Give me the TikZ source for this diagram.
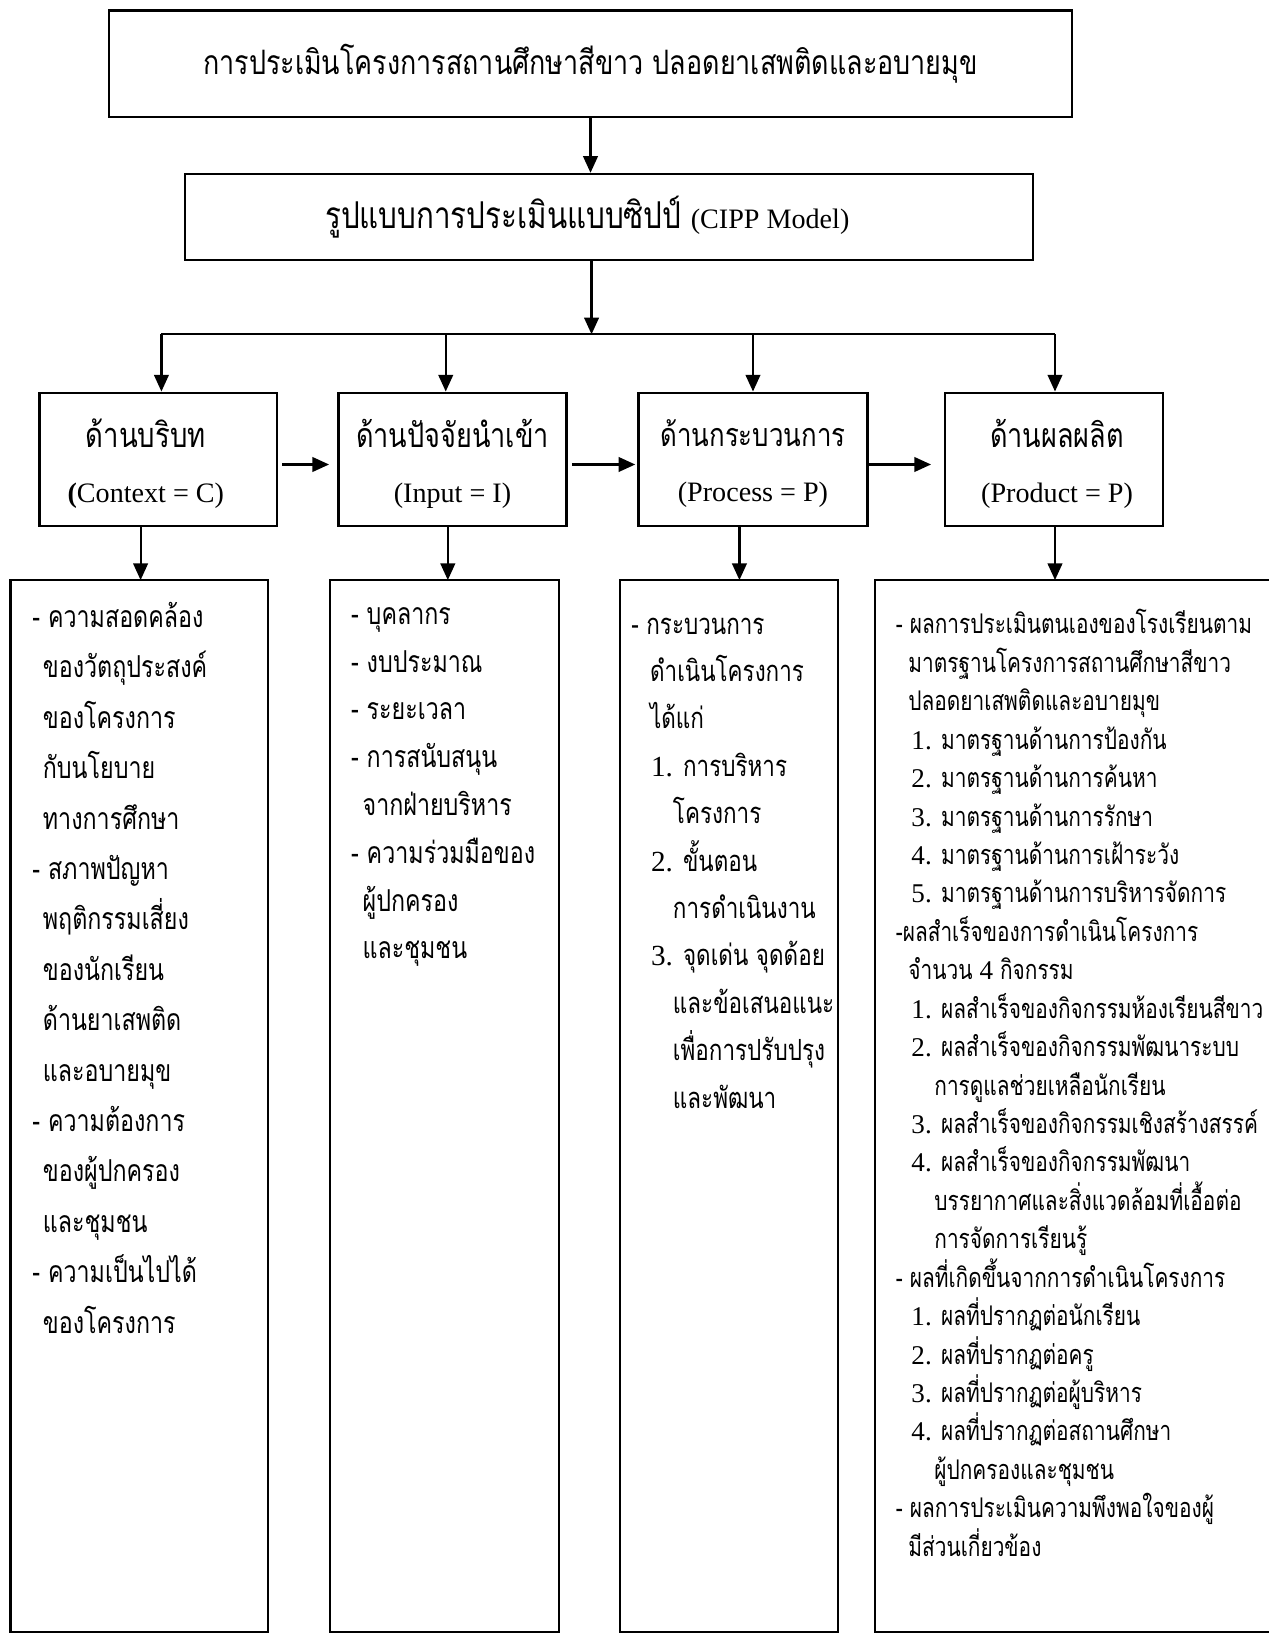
\documentclass[tikz,border=0pt]{standalone}
\usepackage{fontspec}
\setmainfont{Liberation Serif}
\newfontfamily\thai[Script=Thai,FakeStretch=0.77]{Loma}
\newfontfamily\thaihd[Script=Thai,FakeStretch=0.8]{Loma}
\usetikzlibrary{arrows.meta}
\newcommand\lat[1]{{\rmfamily #1}}
\begin{document}
\begin{tikzpicture}[x=1pt,y=-1pt,
  box/.style={draw, line width=2.1pt, rectangle, inner sep=0pt},
  arr/.style={line width=2.1pt, -{Triangle[length=16pt,width=14pt]}},
  conn/.style={line width=2.1pt},
  hd/.style={align=center, inner sep=0pt},
  lst/.style={align=left, inner sep=0pt, anchor=north west}]
\useasboundingbox (0,0) rectangle (1218,1568);
% top boxes
\node[box, minimum width=924pt, minimum height=102pt] (top) at (567,61)
  {\fontsize{32.3}{36}\thaihd การประเมินโครงการสถานศึกษาสีขาว ปลอดยาเสพติดและอบายมุข};
\node[box, minimum width=814pt, minimum height=83pt] (cipp) at (585,208.5) {};
\node[inner sep=0pt, anchor=west] (cippt) at (312,208.5)
  {{\fontsize{35.5}{36}\thaihd รูปแบบการประเมินแบบซิปป์}\hspace{9pt}{\fontsize{27}{32}\selectfont(CIPP Model)}};
% middle boxes
\node[box, minimum width=228pt, minimum height=128pt] (ctx) at (152,441) {};
\node[box, minimum width=219pt, minimum height=128pt] (inp) at (434.5,441) {};
\node[box, minimum width=220pt, minimum height=128pt] (proc) at (723,441) {};
\node[box, minimum width=210pt, minimum height=128pt] (prod) at (1012,441) {};
\node[hd] (ctxt) at ([xshift=-12pt,yshift=-4.5pt]ctx.center) {{\fontsize{33}{36}\thaihd ด้านบริบท}\\[33pt]{\fontsize{27}{32}\selectfont\textbf{(}Context = C)}};
\node[hd] (inpt) at ([yshift=-4.5pt]inp.center) {{\fontsize{32.5}{36}\thaihd ด้านปัจจัยนำเข้า}\\[33pt]{\fontsize{27}{32}\selectfont(Input = I)}};
\node[hd] (proct) at ([yshift=-4.5pt]proc.center) {{\fontsize{31}{36}\thaihd ด้านกระบวนการ}\\[33pt]{\fontsize{27}{32}\selectfont(Process = P)}};
\node[hd] (prodt) at ([xshift=3pt,yshift=-4.5pt]prod.center) {{\fontsize{32.5}{36}\thaihd ด้านผลผลิต}\\[33pt]{\fontsize{27}{32}\selectfont(Product = P)}};
% bottom boxes
\node[box, minimum width=247pt, minimum height=1010pt] (lctx) at (133.5,1062) {};
\node[box, minimum width=220pt, minimum height=1010pt] (linp) at (427,1062) {};
\node[box, minimum width=210pt, minimum height=1010pt] (lproc) at (700,1062) {};
\node[box, minimum width=390pt, minimum height=1010pt] (lprod) at (1035,1062) {};
% connectors
\coordinate (j) at (568,321);
\coordinate (b1) at (155,321);
\coordinate (b2) at (428,321);
\coordinate (b3) at (723,321);
\coordinate (b4) at (1013,321);
\coordinate (dC) at (135,557);
\coordinate (dI) at (430,557);
\coordinate (dP) at (710,557);
\coordinate (dR) at (1013,557);
\draw[arr] (top.south) -- (top.south |- cipp.north);
\draw[arr] (cipp.south -| j) -- (j);
\draw[conn] (b1) -- (b4);
\draw[arr] (b1) -- (b1 |- ctx.north);
\draw[arr] (b2) -- (b2 |- inp.north);
\draw[arr] (b3) -- (b3 |- proc.north);
\draw[arr] (b4) -- (b4 |- prod.north);
\draw[arr, shorten <=4pt, shorten >=8pt] ([yshift=-5pt]ctx.east) -- ([yshift=-5pt]inp.west);
\draw[arr, shorten <=4pt, shorten >=2pt] ([yshift=-5pt]inp.east) -- ([yshift=-5pt]proc.west);
\draw[arr, shorten <=0pt, shorten >=12pt] ([yshift=-5pt]proc.east) -- ([yshift=-5pt]prod.west);
\draw[arr] (ctx.south -| dC) -- (dC);
\draw[arr] (inp.south -| dI) -- (dI);
\draw[arr] (proc.south -| dP) -- (dP);
\draw[arr] (prod.south -| dR) -- (dR);
% list texts
\node[lst, font=\fontsize{29}{48.4}\thai] (tctx) at (31,578) {%
- ความสอดคล้อง\\
\hspace*{10pt}ของวัตถุประสงค์\\
\hspace*{10pt}ของโครงการ\\
\hspace*{10pt}กับนโยบาย\\
\hspace*{10pt}ทางการศึกษา\\
- สภาพปัญหา\\
\hspace*{10pt}พฤติกรรมเสี่ยง\\
\hspace*{10pt}ของนักเรียน\\
\hspace*{10pt}ด้านยาเสพติด\\
\hspace*{10pt}และอบายมุข\\
- ความต้องการ\\
\hspace*{10pt}ของผู้ปกครอง\\
\hspace*{10pt}และชุมชน\\
- ความเป็นไปได้\\
\hspace*{10pt}ของโครงการ};
\node[lst, font=\fontsize{29}{45.9}\thai] (tinp) at (337,583) {%
- บุคลากร\\
- งบประมาณ\\
- ระยะเวลา\\
- การสนับสนุน\\
\hspace*{11pt}จากฝ่ายบริหาร\\
- ความร่วมมือของ\\
\hspace*{11pt}ผู้ปกครอง\\
\hspace*{11pt}และชุมชน};
\node[lst, font=\fontsize{28}{45.5}\thai] (tproc) at (606,593) {%
- กระบวนการ\\
\hspace*{18pt}ดำเนินโครงการ\\
\hspace*{18pt}ได้แก่\\
\hspace*{19pt}\lat{1.} การบริหาร\\
\hspace*{40pt}โครงการ\\
\hspace*{19pt}\lat{2.} ขั้นตอน\\
\hspace*{40pt}การดำเนินงาน\\
\hspace*{19pt}\lat{3.} จุดเด่น จุดด้อย\\
\hspace*{40pt}และข้อเสนอแนะ\\
\hspace*{40pt}เพื่อการปรับปรุง\\
\hspace*{40pt}และพัฒนา};
\node[lst, font=\fontsize{26}{36.9}\thai] (tprod) at (860,585) {%
- ผลการประเมินตนเองของโรงเรียนตาม\\
\hspace*{12pt}มาตรฐานโครงการสถานศึกษาสีขาว\\
\hspace*{12pt}ปลอดยาเสพติดและอบายมุข\\
\hspace*{15pt}\lat{1.} มาตรฐานด้านการป้องกัน\\
\hspace*{15pt}\lat{2.} มาตรฐานด้านการค้นหา\\
\hspace*{15pt}\lat{3.} มาตรฐานด้านการรักษา\\
\hspace*{15pt}\lat{4.} มาตรฐานด้านการเฝ้าระวัง\\
\hspace*{15pt}\lat{5.} มาตรฐานด้านการบริหารจัดการ\\
-ผลสำเร็จของการดำเนินโครงการ\\
\hspace*{12pt}จำนวน \lat{4} กิจกรรม\\
\hspace*{15pt}\lat{1.} ผลสำเร็จของกิจกรรมห้องเรียนสีขาว\\
\hspace*{15pt}\lat{2.} ผลสำเร็จของกิจกรรมพัฒนาระบบ\\
\hspace*{37pt}การดูแลช่วยเหลือนักเรียน\\
\hspace*{15pt}\lat{3.} ผลสำเร็จของกิจกรรมเชิงสร้างสรรค์\\
\hspace*{15pt}\lat{4.} ผลสำเร็จของกิจกรรมพัฒนา\\
\hspace*{37pt}บรรยากาศและสิ่งแวดล้อมที่เอื้อต่อ\\
\hspace*{37pt}การจัดการเรียนรู้\\
- ผลที่เกิดขึ้นจากการดำเนินโครงการ\\
\hspace*{15pt}\lat{1.} ผลที่ปรากฏต่อนักเรียน\\
\hspace*{15pt}\lat{2.} ผลที่ปรากฏต่อครู\\
\hspace*{15pt}\lat{3.} ผลที่ปรากฏต่อผู้บริหาร\\
\hspace*{15pt}\lat{4.} ผลที่ปรากฏต่อสถานศึกษา\\
\hspace*{37pt}ผู้ปกครองและชุมชน\\
- ผลการประเมินความพึงพอใจของผู้\\
\hspace*{12pt}มีส่วนเกี่ยวข้อง};
\end{tikzpicture}
\end{document}
